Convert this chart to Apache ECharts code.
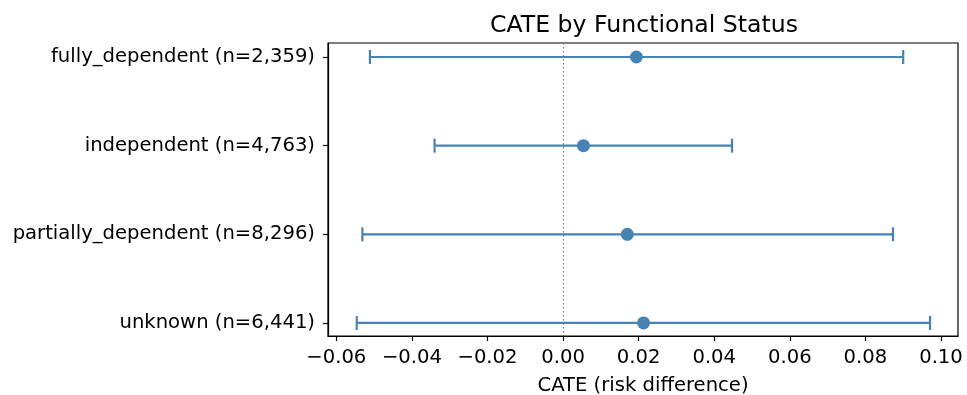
<!DOCTYPE html>
<html><head><meta charset="utf-8">
<script src="https://cdn.jsdelivr.net/npm/echarts@6/dist/echarts.min.js"></script>
<style>html,body{margin:0;padding:0;background:#fff}#c{width:967px;height:395px}</style>
</head><body><div id="c"></div>
<script>
const categories = ["fully_dependent (n=2,359)", "independent (n=4,763)", "partially_dependent (n=8,296)", "unknown (n=6,441)"];
const cate = [0.0194, 0.0054, 0.0170, 0.0213];
const ciLow = [-0.0511, -0.0340, -0.0531, -0.0546];
const ciHigh = [0.0900, 0.0447, 0.0873, 0.0971];
const xTicks = [-0.06, -0.04, -0.02, 0.00, 0.02, 0.04, 0.06, 0.08, 0.10];

const color = '#4682b4';
const font = 'DejaVu Sans';
const chart = echarts.init(document.getElementById('c'));
const idx = categories.map((_, i) => i);
chart.setOption({
  animation: false,
  title: {text: 'CATE by Functional Status', left: 639, top: 9, textAlign: 'center',
    textStyle: {fontFamily: font, fontSize: 23.6, fontWeight: 'normal', color: '#000'}},
  grid: {left: 328, right: 9, top: 43, bottom: 59, show: true, borderColor: '#000', borderWidth: 1.2,
    outerBoundsMode: 'none', containLabel: false},
  xAxis: {type: 'value', min: -0.0622, max: 0.1045,
    name: 'CATE (risk difference)', nameLocation: 'middle', nameGap: 40,
    nameTextStyle: {fontFamily: font, fontSize: 19.6, color: '#000'},
    axisLine: {show: true, onZero: false, lineStyle: {color: '#000', width: 1.2}},
    axisTick: {show: true, inside: false, length: 5, lineStyle: {color: '#000', width: 1.2}, customValues: xTicks},
    axisLabel: {fontFamily: font, fontSize: 19.6, color: '#000', margin: 12, customValues: xTicks,
      formatter: v => (v < 0 ? '\u2212' : '') + Math.abs(v).toFixed(2)},
    splitLine: {show: false}},
  yAxis: {type: 'value', inverse: true, min: -0.158, max: 3.147,
    axisLine: {show: true, onZero: false, lineStyle: {color: '#000', width: 1.2}},
    axisTick: {show: true, inside: false, length: 5, lineStyle: {color: '#000', width: 1.2}, customValues: idx},
    axisLabel: {fontFamily: font, fontSize: 19.6, color: '#000', margin: 13, customValues: idx,
      formatter: v => categories[Math.round(v)]},
    splitLine: {show: false}},
  series: [
    {type: 'line', data: [], markLine: {silent: true, symbol: 'none', label: {show: false},
      lineStyle: {type: [1.5, 2.5], color: '#707070', width: 1}, data: [{xAxis: 0}]}},
    {type: 'custom', z: 2,
      data: idx.map(i => [ciLow[i], ciHigh[i], i]),
      renderItem: (params, api) => {
        const lo = api.coord([api.value(0), api.value(2)]);
        const hi = api.coord([api.value(1), api.value(2)]);
        const h = 7;
        const st = {stroke: color, lineWidth: 2.2};
        return {type: 'group', children: [
          {type: 'line', shape: {x1: lo[0], y1: lo[1], x2: hi[0], y2: hi[1]}, style: st},
          {type: 'line', shape: {x1: lo[0], y1: lo[1] - h, x2: lo[0], y2: lo[1] + h}, style: st},
          {type: 'line', shape: {x1: hi[0], y1: hi[1] - h, x2: hi[0], y2: hi[1] + h}, style: st}
        ]};
      }},
    {type: 'scatter', z: 3, symbol: 'circle', symbolSize: 13, itemStyle: {color: color, opacity: 1},
      data: idx.map(i => [cate[i], i])}
  ]
});
</script></body></html>
